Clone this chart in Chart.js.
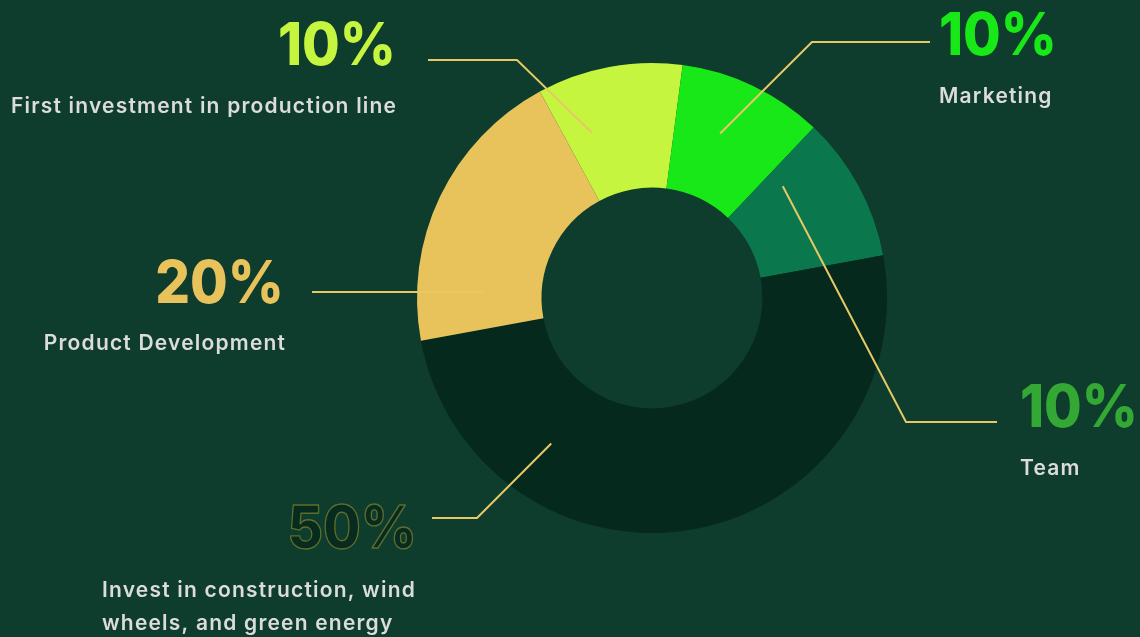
<!DOCTYPE html>
<html>
<head>
<meta charset="utf-8">
<script src="https://cdn.jsdelivr.net/npm/chart.js@4.4.1/dist/chart.umd.min.js"></script>
<style>
  html, body { margin: 0; padding: 0; background: #0e3c2d; }
  #wrap { width: 1140px; height: 637px; position: relative; }
  canvas { display: block; }
</style>
</head>
<body>
<div id="wrap"><canvas id="c" width="1140" height="637"></canvas></div>
<script>
// ---- data ----
const categories = [
  "First investment in production line",
  "Marketing",
  "Team",
  "Invest in construction, wind wheels, and green energy",
  "Product Development"
];
const shares = [10, 10, 10, 50, 20];
const percentLabels = ["10%", "10%", "10%", "50%", "20%"];
const sliceColors = ["#c5f53f", "#18e818", "#0a784c", "#05291d", "#e8c35c"];
const percentColors = ["#c5f53f", "#18e818", "#34a834", "#072b1e", "#e8c35c"];

// ---- annotation layout (not data) ----
const annoLayout = [
  { ang: -20, r: 176, elbow: [517, 60], end: [428, 60], pct: { x: 396, y: 65, align: "right" },
    text: { x: 396, y: 113, align: "right", lines: [categories[0]] } },
  { ang: 22.5, r: 178, elbow: [812, 42], end: [930, 42], pct: { x: 939, y: 55, align: "left" },
    text: { x: 939, y: 103, align: "left", lines: [categories[1]] } },
  { ang: 49.5, r: 172, elbow: [906, 422], end: [997, 422], pct: { x: 1020, y: 427, align: "left" },
    text: { x: 1020, y: 475, align: "left", lines: [categories[2]] } },
  { ang: 214.7, r: 177, elbow: [477, 518], end: [432, 518], pct: { x: 417, y: 548, align: "right", outline: true },
    text: { x: 102, y: 597, align: "left", lines: ["Invest in construction, wind", "wheels, and green energy"] } },
  { ang: 272, r: 169, elbow: null, end: [312, 292], pct: { x: 284, y: 303, align: "right" },
    text: { x: 285, y: 350, align: "right", lines: [categories[4]] } }
];

const annotationPlugin = {
  id: "anno",
  afterDatasetsDraw(chart) {
    const ctx = chart.ctx;
    const arc = chart.getDatasetMeta(0).data[0];
    const cx = arc.x, cy = arc.y;
    ctx.save();
    // leader lines
    annoLayout.forEach((a) => {
      const rad = a.ang * Math.PI / 180;
      const sx = cx + a.r * Math.sin(rad), sy = cy - a.r * Math.cos(rad);
      ctx.beginPath();
      ctx.moveTo(sx, sy);
      if (a.elbow) ctx.lineTo(a.elbow[0], a.elbow[1]);
      ctx.lineTo(a.end[0], a.end[1]);
      ctx.strokeStyle = "#e6c866";
      ctx.lineWidth = 2;
      ctx.lineJoin = "round";
      ctx.stroke();
    });
    // texts
    annoLayout.forEach((a, i) => {
      ctx.textBaseline = "alphabetic";
      ctx.save();
      ctx.translate(a.pct.x, a.pct.y);
      ctx.scale(0.925, 1);
      ctx.font = "800 59px Inter";
      ctx.textAlign = a.pct.align;
      ctx.fillStyle = percentColors[i];
      ctx.fillText(percentLabels[i], 0, 0);
      if (a.pct.outline) {
        ctx.lineWidth = 1.4;
        ctx.strokeStyle = "#5f6e2c";
        ctx.strokeText(percentLabels[i], 0, 0);
      }
      ctx.restore();
      ctx.save();
      ctx.font = "600 21px Inter";
      ctx.letterSpacing = "1.2px";
      ctx.fillStyle = "#dcdcdc";
      ctx.textAlign = a.text.align;
      const dx = a.text.align === "right" ? 1.2 : 0;
      a.text.lines.forEach((ln, k) => {
        ctx.fillText(ln, a.text.x + dx, a.text.y + k * 33);
      });
      ctx.restore();
    });
    ctx.restore();
  }
};

new Chart(document.getElementById("c"), {
  type: "doughnut",
  data: {
    labels: categories,
    datasets: [{
      data: shares,
      backgroundColor: sliceColors,
      borderWidth: 0,
      hoverOffset: 0
    }]
  },
  options: {
    responsive: false,
    devicePixelRatio: 1,
    animation: false,
    rotation: -28.5,
    cutout: "47%",
    layout: { padding: { left: 417, right: 253, top: 63, bottom: 104 } },
    plugins: { legend: { display: false }, tooltip: { enabled: false } },
    events: []
  },
  plugins: [annotationPlugin]
});
</script>
</body>
</html>
